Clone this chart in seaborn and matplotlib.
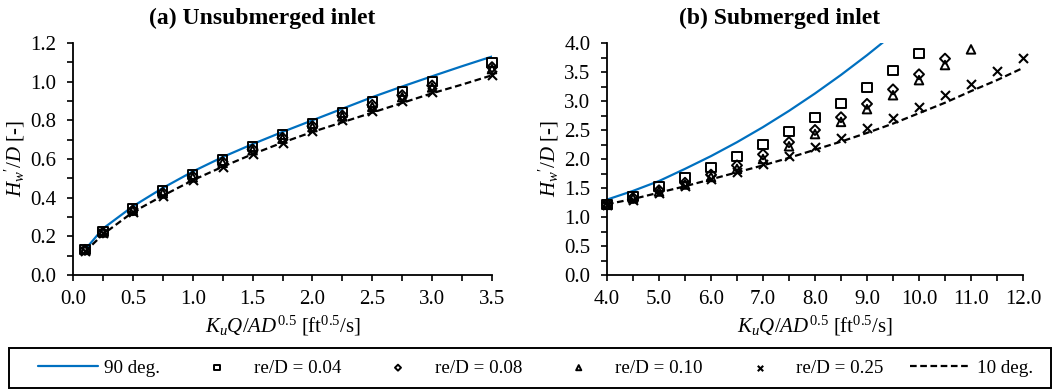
import numpy as np
import pandas as pd
import matplotlib
matplotlib.use("Agg")
import matplotlib.pyplot as plt
from matplotlib.patches import Rectangle
from matplotlib.ticker import MultipleLocator, FormatStrFormatter
import seaborn as sns

# ---- (a) Unsubmerged inlet ----
x_a = [0.1, 0.25, 0.5, 0.75, 1.0, 1.25, 1.5, 1.75, 2.0, 2.25, 2.5, 2.75, 3.0, 3.5]
a_re004 = [0.13, 0.225, 0.345, 0.435, 0.52, 0.595, 0.665, 0.725, 0.785, 0.84, 0.895, 0.948, 1.0, 1.10]
a_re008 = [0.13, 0.22, 0.335, 0.425, 0.51, 0.585, 0.65, 0.71, 0.77, 0.825, 0.88, 0.93, 0.98, 1.075]
a_re010 = [0.13, 0.22, 0.333, 0.422, 0.505, 0.58, 0.645, 0.705, 0.765, 0.82, 0.87, 0.92, 0.97, 1.065]
a_re025 = [0.125, 0.215, 0.325, 0.41, 0.49, 0.56, 0.625, 0.685, 0.745, 0.80, 0.85, 0.90, 0.945, 1.035]

x_a_curve90 = [0.12, 0.25, 0.5, 0.75, 1.0, 1.25, 1.5, 1.75, 2.0, 2.25, 2.5, 2.75, 3.0, 3.25, 3.5]
a_deg90 = [0.145, 0.24, 0.355, 0.45, 0.535, 0.61, 0.677, 0.74, 0.80, 0.86, 0.92, 0.975, 1.028, 1.08, 1.13]
x_a_curve10 = [0.1, 0.25, 0.5, 0.75, 1.0, 1.25, 1.5, 1.75, 2.0, 2.25, 2.5, 2.75, 3.0, 3.25, 3.5]
a_deg10 = [0.12, 0.21, 0.325, 0.41, 0.49, 0.56, 0.625, 0.685, 0.74, 0.79, 0.84, 0.89, 0.94, 0.985, 1.033]

# ---- (b) Submerged inlet ----
x_b004 = [4.0, 4.5, 5.0, 5.5, 6.0, 6.5, 7.0, 7.5, 8.0, 8.5, 9.0, 9.5, 10.0]
b_re004 = [1.22, 1.36, 1.52, 1.68, 1.85, 2.04, 2.25, 2.47, 2.71, 2.96, 3.23, 3.52, 3.82]
x_b008 = [4.0, 4.5, 5.0, 5.5, 6.0, 6.5, 7.0, 7.5, 8.0, 8.5, 9.0, 9.5, 10.0, 10.5]
b_re008 = [1.22, 1.33, 1.46, 1.59, 1.73, 1.89, 2.08, 2.29, 2.50, 2.72, 2.95, 3.20, 3.46, 3.73]
x_b010 = [4.0, 4.5, 5.0, 5.5, 6.0, 6.5, 7.0, 7.5, 8.0, 8.5, 9.0, 9.5, 10.0, 10.5, 11.0]
b_re010 = [1.21, 1.32, 1.44, 1.56, 1.69, 1.83, 2.00, 2.22, 2.43, 2.64, 2.86, 3.10, 3.36, 3.62, 3.89]
x_b025 = [4.0, 4.5, 5.0, 5.5, 6.0, 6.5, 7.0, 7.5, 8.0, 8.5, 9.0, 9.5, 10.0, 10.5, 11.0, 11.5, 12.0]
b_re025 = [1.20, 1.30, 1.42, 1.53, 1.65, 1.78, 1.92, 2.05, 2.21, 2.36, 2.53, 2.70, 2.90, 3.10, 3.30, 3.51, 3.74]

x_b_curve90 = [4.0, 4.5, 5.0, 5.5, 6.0, 6.5, 7.0, 7.5, 8.0, 8.5, 9.0, 9.5]
b_deg90 = [1.30, 1.45, 1.62, 1.83, 2.05, 2.29, 2.55, 2.83, 3.13, 3.45, 3.79, 4.15]
x_b_curve10 = [4.0, 4.5, 5.0, 5.5, 6.0, 6.5, 7.0, 7.5, 8.0, 8.5, 9.0, 9.5, 10.0, 10.5, 11.0, 11.5, 12.0]
b_deg10 = [1.22, 1.31, 1.42, 1.53, 1.65, 1.77, 1.89, 2.02, 2.16, 2.30, 2.45, 2.61, 2.79, 2.97, 3.17, 3.36, 3.57]

series_labels = ["90 deg.", "re/D = 0.04", "re/D = 0.08", "re/D = 0.10", "re/D = 0.25", "10 deg."]
titles = ["(a) Unsubmerged inlet", "(b) Submerged inlet"]

sns.set_style("ticks")
plt.rcParams["font.family"] = ["Liberation Serif", "DejaVu Serif"]
plt.rcParams["mathtext.fontset"] = "custom"
plt.rcParams["mathtext.rm"] = "Liberation Serif"
plt.rcParams["mathtext.it"] = "Liberation Serif:italic"
plt.rcParams["mathtext.bf"] = "Liberation Serif:bold"
plt.rcParams["text.color"] = "black"
plt.rcParams["axes.labelcolor"] = "black"

BLUE = "#0070C0"
W, H = 1058, 390
fig = plt.figure(figsize=(W / 100, H / 100), dpi=100)
ax_a = fig.add_axes([73 / W, 1 - 275 / H, 419 / W, 232 / H])
ax_b = fig.add_axes([607 / W, 1 - 275 / H, 416 / W, 232 / H])

marker_styles = [("s", 44), ("D", 26), ("^", 38), ("x", 42)]


def draw_panel(ax, xc90, y90, xc10, y10, pts):
    sns.lineplot(x=xc90, y=y90, ax=ax, color=BLUE, linewidth=1.6,
                 sort=False, estimator=None, label=series_labels[0])
    for (xs, ys), (mk, sz), lab in zip(pts, marker_styles, series_labels[1:5]):
        if mk == "x":
            sns.scatterplot(x=xs, y=ys, ax=ax, marker=mk, s=sz, color="black",
                            linewidth=1.5, label=lab, zorder=3, clip_on=False)
        else:
            sns.scatterplot(x=xs, y=ys, ax=ax, marker=mk, s=sz, facecolor="none",
                            edgecolor="black", linewidth=1.4, label=lab, zorder=3,
                            clip_on=False)
    sns.lineplot(x=xc10, y=y10, ax=ax, color="black", linewidth=1.6,
                 sort=False, estimator=None, label=series_labels[5])
    ax.lines[-1].set_dashes((3, 1.6))
    if ax.get_legend() is not None:
        ax.get_legend().remove()


draw_panel(ax_a, x_a_curve90, a_deg90, x_a_curve10, a_deg10,
           [(x_a, a_re004), (x_a, a_re008), (x_a, a_re010), (x_a, a_re025)])
draw_panel(ax_b, x_b_curve90, b_deg90, x_b_curve10, b_deg10,
           [(x_b004, b_re004), (x_b008, b_re008), (x_b010, b_re010), (x_b025, b_re025)])

ax_a.set_xlim(0, 3.5)
ax_a.set_ylim(0, 1.2)
ax_a.xaxis.set_major_locator(MultipleLocator(0.5))
ax_a.xaxis.set_minor_locator(MultipleLocator(0.25))
ax_a.yaxis.set_major_locator(MultipleLocator(0.2))
ax_a.yaxis.set_minor_locator(MultipleLocator(0.1))

ax_b.set_xlim(4, 12)
ax_b.set_ylim(0, 4)
ax_b.xaxis.set_major_locator(MultipleLocator(1.0))
ax_b.xaxis.set_minor_locator(MultipleLocator(0.5))
ax_b.yaxis.set_major_locator(MultipleLocator(0.5))
ax_b.yaxis.set_minor_locator(MultipleLocator(0.25))

xlab = r"$K_uQ$/$AD^{0.5}$ [ft$^{0.5}$/s]"
ylab = r"$H_w$$'$/$D$ [-]"
for ax, title, tx in zip([ax_a, ax_b], titles, [0.451, 0.416]):
    sns.despine(ax=ax)
    for sp in ["left", "bottom"]:
        ax.spines[sp].set_linewidth(1.3)
        ax.spines[sp].set_color("black")
    ax.xaxis.set_major_formatter(FormatStrFormatter("%.1f"))
    ax.yaxis.set_major_formatter(FormatStrFormatter("%.1f"))
    ax.tick_params(which="both", direction="out", length=4, width=1.2,
                   color="black", labelsize=15, labelcolor="black")
    ax.tick_params(axis="x", which="major", pad=7)
    ax.tick_params(axis="y", which="major", pad=8)
    ax.set_xlabel(xlab, fontsize=15, labelpad=3, color="black")
    ax.set_ylabel(ylab, fontsize=15, labelpad=2, color="black")
    ax.set_title(title, fontsize=17, fontweight="bold", x=tx, pad=14,
                 color="black")

# legend entries inside a framed strip along the bottom
handles, labels = ax_a.get_legend_handles_labels()
leg = fig.legend(handles, labels, loc="center left", ncol=6, mode="expand",
                 bbox_to_anchor=(36 / W, 1 - 368 / H, 999 / W, 0),
                 bbox_transform=fig.transFigure, borderaxespad=0, borderpad=0.1,
                 fontsize=13.7, handlelength=3.15, handletextpad=0.35,
                 markerscale=0.6, frameon=False, scatterpoints=1)
fig.patches.append(Rectangle((9 / W, 1 - 388 / H), 1042 / W, 40 / H,
                             transform=fig.transFigure, fill=False,
                             edgecolor="black", linewidth=1.4))

fig.savefig("out.png", dpi=100)
